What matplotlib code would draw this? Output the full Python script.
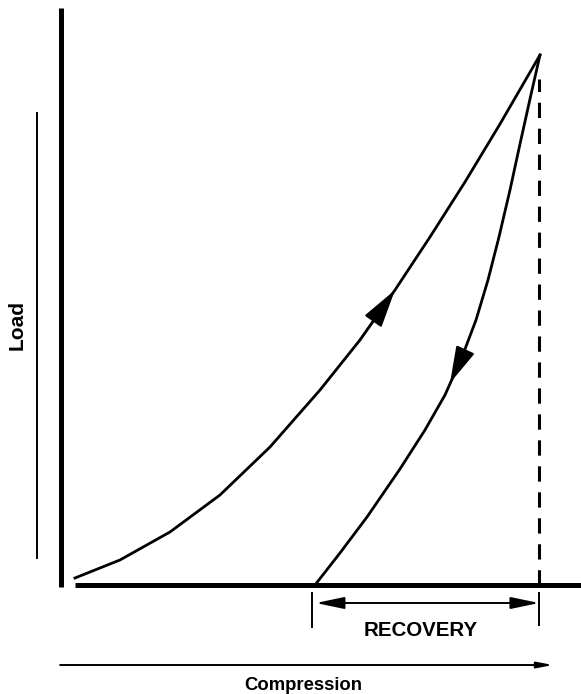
import matplotlib
matplotlib.use('Agg')
from matplotlib import pyplot as plt

# Кривая нагружения (сжатие, нагрузка) в условных единицах 0..100
load_compression = [0, 9.68, 20.43, 31.18, 41.94, 52.69, 61.29, 68.82, 76.34, 83.87, 91.40, 100]
load_values = [1.32, 4.72, 10.0, 16.98, 26.04, 36.79, 46.23, 55.66, 65.66, 76.04, 86.98, 100]

# Кривая разгрузки
unload_compression = [100, 97.85, 95.70, 93.55, 91.18, 88.82, 86.24, 83.23, 79.57,
                      75.27, 69.89, 62.80, 56.99, 51.61]
unload_values = [100, 91.70, 83.21, 74.53, 65.66, 57.55, 50.0, 43.02, 35.85,
                 29.25, 21.89, 12.83, 6.04, 0]

# Подписи
x_label = 'Compression'
y_label = 'Load'
recovery_label = 'RECOVERY'

plt.rcParams['font.family'] = ['Liberation Sans', 'DejaVu Sans']

fig = plt.figure(figsize=(5.81, 6.94), dpi=100)
ax = fig.add_axes([0, 0, 1, 1])
ax.set_xlim(-16.13, 108.82)
ax.set_ylim(-20.57, 110.38)
ax.axis('off')

# Оси
ax.plot([-3.0, -3.0], [-0.4, 108.9], color='black', lw=3.6, solid_capstyle='butt')
ax.plot([0, 108.82], [0, 0], color='black', lw=3.6, solid_capstyle='butt')
ax.plot([-8.17, -8.17], [4.9, 89.2], color='black', lw=1.4, solid_capstyle='butt')

# Стрелка сжатия внизу
ax.annotate('', xy=(102.8, -15.1), xytext=(-3.2, -15.1),
            arrowprops=dict(arrowstyle='-|>,head_length=0.47,head_width=0.09',
                            mutation_scale=20, color='black', lw=1.4,
                            shrinkA=0, shrinkB=0))

# Кривые
ax.plot(load_compression, load_values, color='black', lw=2.0, solid_joinstyle='round')
ax.plot(unload_compression, unload_values, color='black', lw=2.0, solid_joinstyle='round')

# Пунктир от вершины
peak_c = load_compression[-1]
ax.plot([peak_c - 0.2, peak_c - 0.2], [0, load_values[-1] - 4.5], color='black',
        lw=2.2, dashes=(5, 3.5))

# Стрелки направления на кривых
ax.annotate('', xy=(load_compression[7], load_values[7]),
            xytext=(load_compression[6], load_values[6]),
            arrowprops=dict(arrowstyle='-|>,head_length=1.2,head_width=0.32',
                            mutation_scale=20, color='black', lw=1.5,
                            shrinkA=0, shrinkB=0))
ax.annotate('', xy=(80.65, 38.11),
            xytext=(unload_compression[7], unload_values[7]),
            arrowprops=dict(arrowstyle='-|>,head_length=1.15,head_width=0.31',
                            mutation_scale=20, color='black', lw=1.5,
                            shrinkA=0, shrinkB=0))

# Восстановление
rec_y = -3.4
ax.annotate('', xy=(99.8, rec_y), xytext=(51.8, rec_y),
            arrowprops=dict(arrowstyle='<|-|>,head_length=0.86,head_width=0.18',
                            mutation_scale=20, color='black', lw=1.4,
                            shrinkA=0, shrinkB=0))
ax.plot([51.0, 51.0], [-1.5, -7.9], color='black', lw=1.4)
ax.plot([99.8, 99.8], [-1.5, -7.6], color='black', lw=1.4)

ax.text(74.4, -8.6, recovery_label, ha='center', va='center',
        fontsize=14.8, fontweight='bold')
ax.text(49.0, -19.0, x_label, ha='center', va='center',
        fontsize=13.3, fontweight='bold')
ax.text(-12.5, 49.1, y_label, ha='center', va='center', rotation=90,
        fontsize=15, fontweight='bold')

plt.savefig('out.png', dpi=100)
